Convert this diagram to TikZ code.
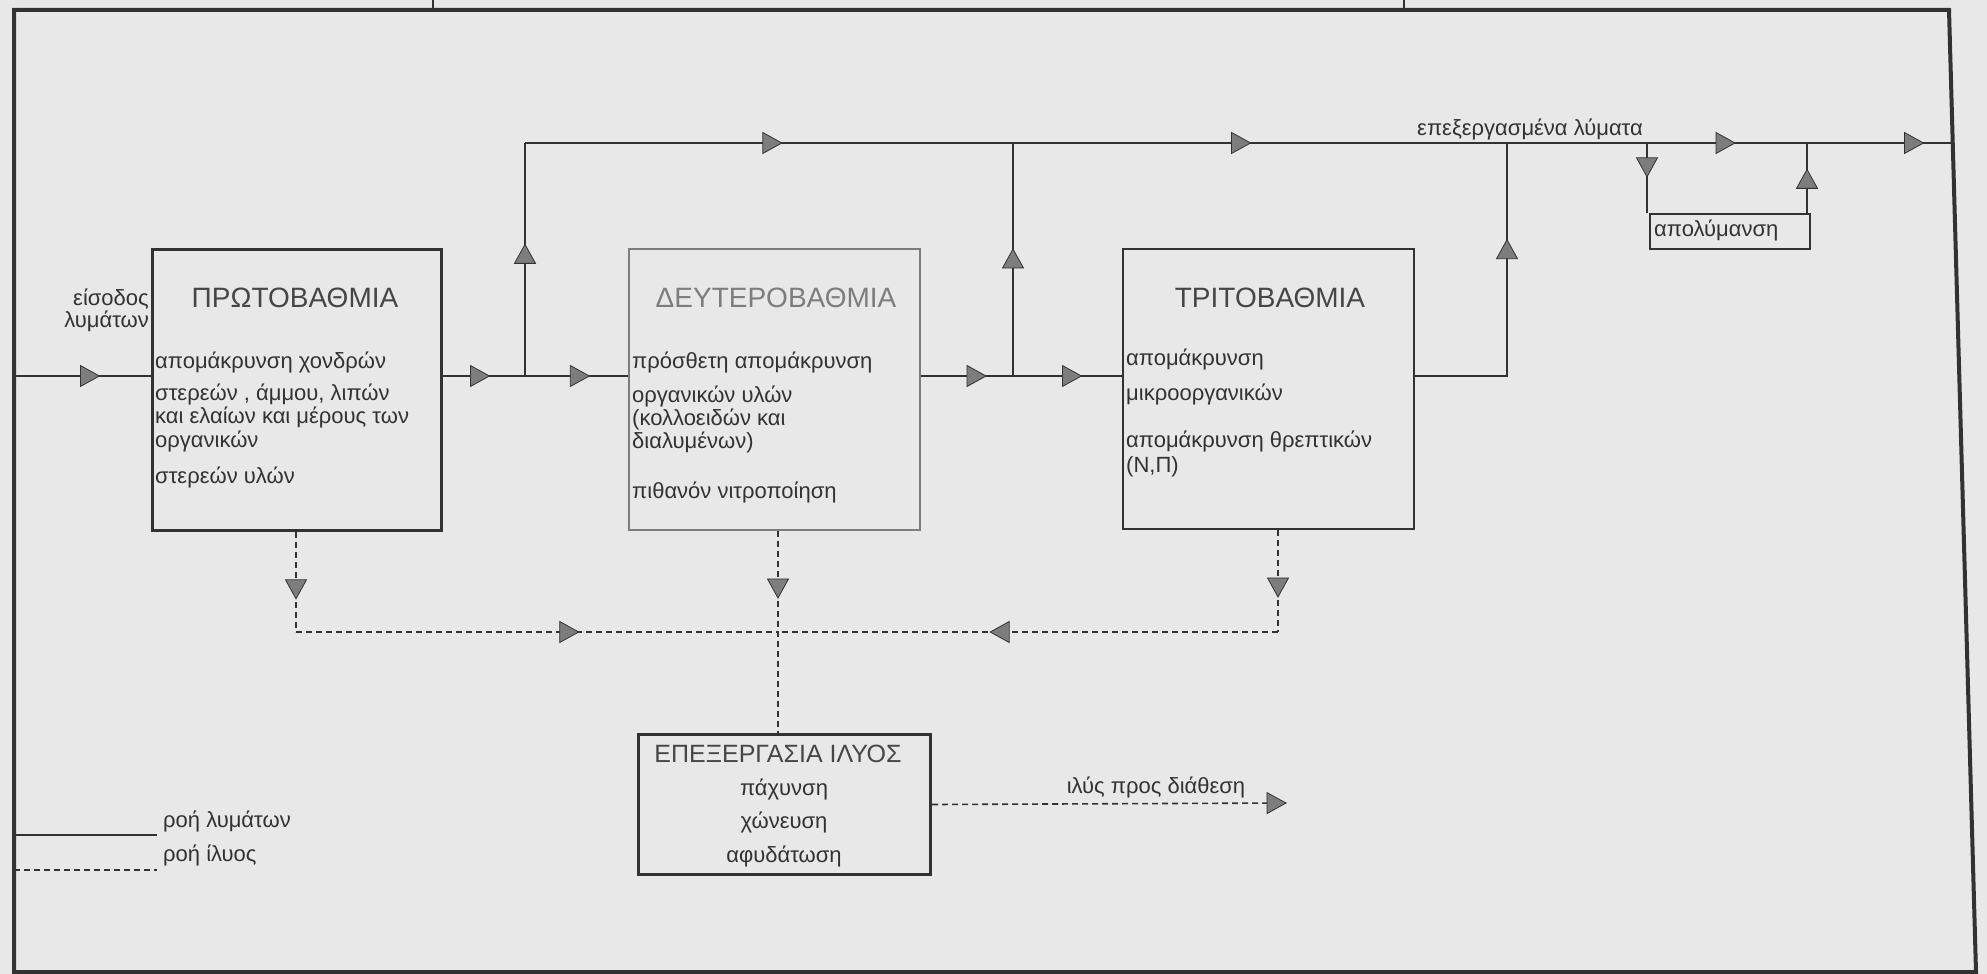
\documentclass[tikz,border=0pt]{standalone}
\usepackage{fontspec}
\setmainfont{Liberation Sans}
\usetikzlibrary{shapes.geometric}
\definecolor{bg}{RGB}{232,232,232}
\definecolor{ink}{RGB}{50,50,50}
\definecolor{titleink}{RGB}{70,70,70}
\definecolor{tipfill}{RGB}{125,125,125}
\definecolor{lightink}{RGB}{125,125,125}
\begin{document}
\begin{tikzpicture}[x=1pt,y=-1pt,
  flow/.style={draw=ink, line width=1.6pt},
  sludge/.style={draw=ink, line width=1.6pt, dash pattern=on 6pt off 4pt},
  tri/.style={isosceles triangle, isosceles triangle stretches, minimum width=21pt, minimum height=19pt,
    inner sep=0pt, outer sep=0pt, fill=tipfill, draw=ink, solid, line width=0.8pt, sloped, allow upside down},
  box/.style={draw=ink, line width=3pt, inner sep=0pt, anchor=north west},
  txt/.style={font=\fontsize{22}{26}\selectfont, inner sep=0pt, anchor=west, text=ink, text height=16pt, text depth=5pt},
  ctxt/.style={txt, anchor=center},
  ttl/.style={font=\fontsize{28}{32}\selectfont, inner sep=0pt, text=titleink, text height=20pt, text depth=0pt}
]
\fill[bg] (0,0) rectangle (1987,974);
\useasboundingbox (0,0) rectangle (1987,974);

% outer frame and stubs of the title box
\draw[ink, line width=4pt] (14,10) -- (1949,10) -- (1976,972) -- (14,972) -- cycle;
\draw[ink, line width=2pt] (433,0) -- (433,10);
\draw[ink, line width=2pt] (1404,0) -- (1404,10);

% boxes
\node[box, minimum width=289pt, minimum height=281pt] (prim) at (151,248) {};
\node[box, draw=lightink, line width=1.5pt, minimum width=291pt, minimum height=281pt] (sec) at (628,248) {};
\node[box, line width=2.2pt, minimum width=291pt, minimum height=280pt] (ter) at (1122,248) {};
\node[box, minimum width=292pt, minimum height=140pt] (slb) at (637,733) {};
\node[box, line width=2.4pt, minimum width=160pt, minimum height=35pt] (dis) at (1649,213) {};

% box texts
\node[ttl] (primT) at (295,297) {ΠΡΩΤΟΒΑΘΜΙΑ};
\node[txt] (p1) at (155,363) {απομάκρυνση χονδρών};
\node[txt] (p2) at (155,395) {στερεών , άμμου, λιπών};
\node[txt] (p3) at (155,418) {και ελαίων και μέρους των};
\node[txt] (p4) at (155,442) {οργανικών};
\node[txt] (p5) at (155,478) {στερεών υλών};

\node[ttl, text=lightink] (secT) at (776,297) {ΔΕΥΤΕΡΟΒΑΘΜΙΑ};
\node[txt] (s1t) at (632,363) {πρόσθετη απομάκρυνση};
\node[txt] (s2t) at (632,397) {οργανικών υλών};
\node[txt] (s3t) at (632,420) {(κολλοειδών και};
\node[txt] (s4t) at (632,443) {διαλυμένων)};
\node[txt] (s5t) at (632,493) {πιθανόν νιτροποίηση};

\node[ttl] (terT) at (1270,297) {ΤΡΙΤΟΒΑΘΜΙΑ};
\node[txt] (t1t) at (1126,360) {απομάκρυνση};
\node[txt] (t2t) at (1126,395) {μικροοργανικών};
\node[txt] (t3t) at (1126,442) {απομάκρυνση θρεπτικών};
\node[txt] (t4t) at (1126,467) {(Ν,Π)};

\node[ttl, font=\fontsize{25}{30}\selectfont, text height=18pt] (slT) at (778,753) {ΕΠΕΞΕΡΓΑΣΙΑ ΙΛΥΟΣ};
\node[ctxt] (sl1) at (784,790) {πάχυνση};
\node[ctxt] (sl2) at (784,823) {χώνευση};
\node[ctxt] (sl3) at (784,857) {αφυδάτωση};

\node[txt] (disT) at (1654,231) {απολύμανση};

% labels
\node[txt, anchor=east] (inl1) at (149,300) {είσοδος};
\node[txt, anchor=east] (inl2) at (149,322) {λυμάτων};
\node[ctxt] (outl) at (1530,130) {επεξεργασμένα λύματα};
\node[ctxt] (sll) at (1156,788) {ιλύς προς διάθεση};

% coordinates of the water flow
\coordinate (in) at (14,376);
\coordinate (j1) at (525,376);
\coordinate (t1) at (525,143);
\coordinate (j2) at (1013,376);
\coordinate (t2) at (1013,143);
\coordinate (e3) at (1507,376);
\coordinate (t3) at (1507,143);
\coordinate (d1) at (1647,143);
\coordinate (d2) at (1807,143);
\coordinate (out) at (1951,143);

\draw[flow] (in) -- node[tri,pos=0.53] (a1) {} (in -| prim.west);
\draw[flow] (in -| prim.east) -- node[tri,pos=0.41] (a2) {} (j1);
\draw[flow] (j1) -- node[tri,pos=0.5] (a3) {} (j1 -| sec.west);
\draw[flow] (j1) -- node[tri,pos=0.51] (a4) {} (t1);
\draw[flow] (j2 -| sec.east) -- node[tri,pos=0.57] (a5) {} (j2);
\draw[flow] (j2) -- node[tri,pos=0.51] (a6) {} (j2 -| ter.west);
\draw[flow] (j2) -- node[tri,pos=0.49] (a7) {} (t2);
\draw[flow] (e3 -| ter.east) -- (e3) -- node[tri,pos=0.53] (a8) {} (t3);
\draw[flow] (t1) -- node[tri,pos=0.5] (a9) {} (t2);
\draw[flow] (t2) -- node[tri,pos=0.455] (a10) {} (t3);
\draw[flow] (t3) -- (d1);
\draw[flow] (d1) -- node[tri,pos=0.47] (a11) {} (d2);
\draw[flow] (d2) -- node[tri,pos=0.72] (a12) {} (out);
\draw[flow] (d1) -- node[tri,pos=0.3] (a13) {} (d1 |- dis.north);
\draw[flow] (d2 |- dis.north) -- node[tri,pos=0.44] (a14) {} (d2);

% sludge flow
\coordinate (s1) at (296,632);
\coordinate (s2) at (778,632);
\coordinate (s3) at (1278,632);
\coordinate (sout) at (1286,803);
\draw[sludge] (prim.south -| s1) -- node[tri,pos=0.54] (b1) {} (s1);
\draw[sludge] (sec.south -| s2) -- node[tri,pos=0.27] (b2) {} (slb.north -| s2);
\draw[sludge] (ter.south -| s3) -- node[tri,pos=0.53] (b3) {} (s3);
\draw[sludge] (s1) -- node[tri,pos=0.56] (b4) {} (s2);
\draw[sludge] (s3) -- node[tri,pos=0.55] (b5) {} (s2);
\draw[sludge] (slb.east) -- node[tri,pos=1,anchor=apex] (b6) {} (sout);

% legend
\coordinate (lg1) at (14,835);
\coordinate (lg2) at (157,835);
\coordinate (lg3) at (14,870);
\coordinate (lg4) at (157,870);
\draw[flow] (lg1) -- (lg2);
\draw[sludge] (lg3) -- (lg4);
\node[txt] (lgt1) at (163,822) {ροή λυμάτων};
\node[txt] (lgt2) at (163,856) {ροή ίλυος};
\end{tikzpicture}
\end{document}
